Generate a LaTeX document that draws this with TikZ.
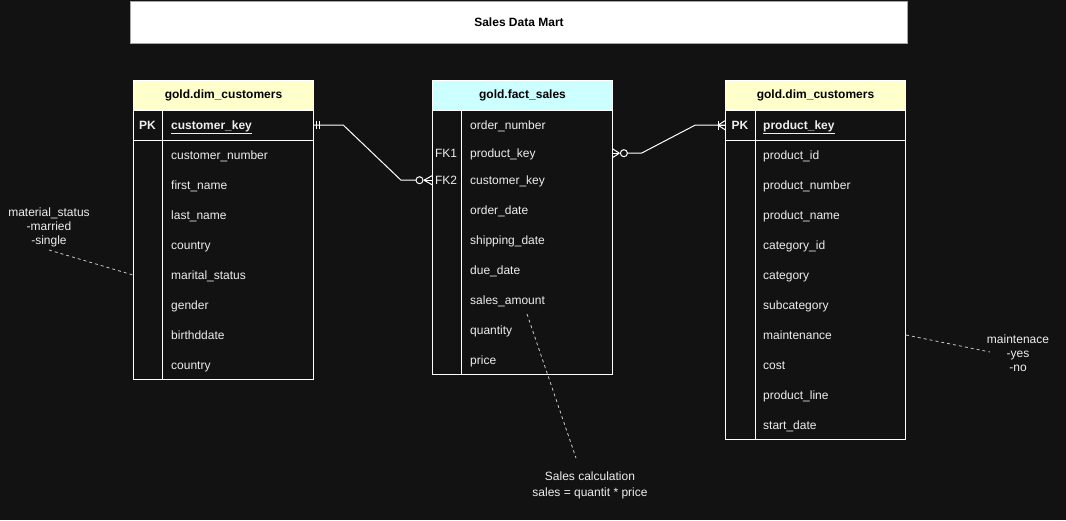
\documentclass[tikz,border=0pt]{standalone}
\usepackage{fontspec}
\setmainfont{Liberation Sans}
\usetikzlibrary{calc}
\definecolor{bg}{RGB}{18,18,18}
\definecolor{hdrY}{RGB}{255,255,204}
\definecolor{hdrC}{RGB}{204,255,255}
\definecolor{txt}{RGB}{238,238,238}
\definecolor{dashc}{RGB}{200,200,200}
\tikzset{
  base/.style={font=\fontsize{12}{14}\selectfont, inner sep=0pt, text=txt},
  hdr/.style={draw=white, line width=1pt, font=\fontsize{12}{14}\selectfont\bfseries, text=black,
              minimum width=180pt, minimum height=30pt, anchor=north west, inner sep=0pt},
  tbody/.style={draw=white, line width=1pt, fill=bg, minimum width=180pt, anchor=north west, inner sep=0pt},
  keyrow/.style={minimum width=180pt, minimum height=30pt, anchor=north west, inner sep=0pt},
  rowtxt/.style={base, anchor=west, text height=9pt, text depth=0pt},
  keytxt/.style={rowtxt, font=\fontsize{12}{14}\selectfont\bfseries},
  tag/.style={base, anchor=center, text height=9pt, text depth=0pt},
  pktag/.style={tag, font=\fontsize{12}{14}\selectfont\bfseries},
  conn/.style={draw=white, line width=1pt},
  tick/.style={draw=white, line width=1pt},
  ring/.style={draw=white, line width=1pt, fill=bg},
  note/.style={base, align=center, font=\fontsize{12}{14}\selectfont},
  dashline/.style={draw=dashc, line width=0.8pt, dash pattern=on 3pt off 3pt},
}
\begin{document}
\begin{tikzpicture}[x=1pt,y=-1pt]
\fill[bg] (0,0) rectangle (1066,520);
\useasboundingbox (0,0) rectangle (1066,520);

% title
\node[draw=gray!70, fill=white, line width=1pt, minimum width=777pt, minimum height=42pt,
      anchor=north west, inner sep=0pt, font=\fontsize{12}{14}\selectfont\bfseries, text=black]
      (title) at (130,1) {Sales Data Mart};

% ---------------- left table
\node[hdr, fill=hdrY] (Lh) at (133,80) {gold.dim\_customers};
\node[tbody, minimum height=269pt] (Lb) at (133,110) {};
\node[keyrow] (Lpk) at (133,110) {};
\draw[white, line width=1pt] (Lpk.south west) -- (Lpk.south east);
\draw[white, line width=1pt] (162,110) -- (162,379);
\node[pktag] (Lpkt) at (147.5,125) {PK};
\node[keytxt] (Lk) at (171,125) {\underline{customer\_key}};
\foreach \t [count=\i] in {customer\_number, first\_name, last\_name, country, marital\_status, gender, birthddate, country}
  \node[rowtxt] (L\i) at (171,{125+30*\i}) {\t};

% ---------------- middle table
\node[hdr, fill=hdrC] (Mh) at (432,80) {gold.fact\_sales};
\node[tbody, minimum height=264pt] (Mb) at (432,110) {};
\draw[white, line width=1pt] (461,110) -- (461,374);
\node[keyrow, minimum height=26pt] (Mfk1) at (432,140) {};
\node[keyrow, minimum height=26pt] (Mfk2) at (432,167) {};
\node[tag] (Mt1) at (446,153) {FK1};
\node[tag] (Mt2) at (446,180) {FK2};
\node[rowtxt] (M1) at (470,125) {order\_number};
\node[rowtxt] (M2) at (470,153) {product\_key};
\node[rowtxt] (M3) at (470,180) {customer\_key};
\foreach \t [count=\i] in {order\_date, shipping\_date, due\_date, sales\_amount, quantity, price}
  \node[rowtxt] (MM\i) at (470,{180+30*\i}) {\t};

% ---------------- right table
\node[hdr, fill=hdrY] (Rh) at (725,80) {gold.dim\_customers};
\node[tbody, minimum height=329pt] (Rb) at (725,110) {};
\node[keyrow] (Rpk) at (725,110) {};
\draw[white, line width=1pt] (Rpk.south west) -- (Rpk.south east);
\draw[white, line width=1pt] (755,110) -- (755,439);
\node[pktag] (Rpkt) at (740,125) {PK};
\node[keytxt] (Rk) at (763,125) {\underline{product\_key}};
\foreach \t [count=\i] in {product\_id, product\_number, product\_name, category\_id, category, subcategory, maintenance, cost, product\_line, start\_date}
  \node[rowtxt] (R\i) at (763,{125+30*\i}) {\t};

% ---------------- connector 1: customers (one) -> fact (zero or many)
\coordinate (c1a) at ($(Lpk.east)+(30,0)$);
\coordinate (c1b) at ($(Mfk2.west)+(-31,0)$);
\coordinate (c1r) at ($(Mfk2.west)+(-12.5,0)$);
\coordinate (c1f) at ($(Mfk2.west)+(-8,0)$);
\draw[conn] (Lpk.east) -- (c1a) -- (c1b) -- (c1r);
\draw[tick] ($(Lpk.east)+(3,-4)$) -- ($(Lpk.east)+(3,4)$);
\draw[tick] ($(Lpk.east)+(6,-4)$) -- ($(Lpk.east)+(6,4)$);
\draw[tick] (c1f) -- ($(Mfk2.west)+(0,-4.5)$);
\draw[tick] (c1f) -- (Mfk2.west);
\draw[tick] (c1f) -- ($(Mfk2.west)+(0,4.5)$);
\draw[ring] (c1r) circle[radius=3.5pt];

% ---------------- connector 2: fact (zero or many) -> products (one or many)
\coordinate (c2r) at ($(Mfk1.east)+(11.5,0)$);
\coordinate (c2f) at ($(Mfk1.east)+(7,0)$);
\coordinate (c2a) at ($(Mfk1.east)+(29,0)$);
\coordinate (c2b) at ($(Rpk.west)+(-30,0)$);
\coordinate (c2g) at ($(Rpk.west)+(-7,0)$);
\draw[conn] (c2r) -- (c2a) -- (c2b) -- (Rpk.west);
\draw[tick] (c2f) -- ($(Mfk1.east)+(0,-4.5)$);
\draw[tick] (c2f) -- (Mfk1.east);
\draw[tick] (c2f) -- ($(Mfk1.east)+(0,4.5)$);
\draw[ring] (c2r) circle[radius=3.5pt];
\draw[tick] ($(c2g)+(0,-4.5)$) -- ($(c2g)+(0,4.5)$);
\draw[tick] (c2g) -- ($(Rpk.west)+(0,-4.5)$);
\draw[tick] (c2g) -- (Rpk.west);
\draw[tick] (c2g) -- ($(Rpk.west)+(0,4.5)$);

% ---------------- annotations
\node[note, anchor=north] (n1) at (49,208) {material\_status\\-married\\-single};
\coordinate (n1p) at (49,250);
\draw[dashline] (n1p) -- (Lb.west |- L5);

\node[note, anchor=north] (n2) at (1018,335) {maintenace\\-yes\\-no};
\coordinate (n2p) at (990,352);
\draw[dashline] (Rb.east |- R7) -- (n2p);

\node[note, anchor=north, font=\fontsize{12}{16}\selectfont] (n3) at (590,472) {Sales calculation\\sales = quantit * price};
\coordinate (n3a) at (527,314);
\coordinate (n3b) at (576,458);
\draw[dashline] (n3a) -- (n3b);
\end{tikzpicture}
\end{document}
